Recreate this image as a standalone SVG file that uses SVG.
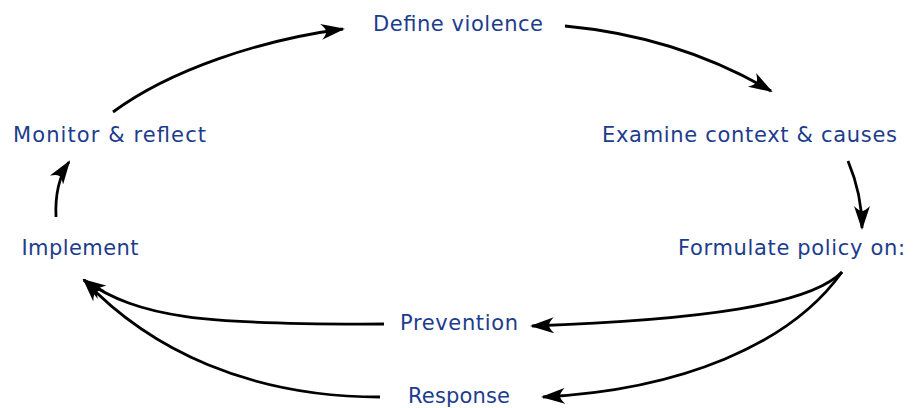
<svg xmlns="http://www.w3.org/2000/svg" width="919" height="408" viewBox="0 0 919 408">
<defs>
<style>
.lbl{font-family:"DejaVu Sans","Liberation Sans",sans-serif;font-size:21px;fill:#1d3c8c;}
.c{fill:none;stroke:#000;stroke-width:2.8;marker-end:url(#ah);}
</style>
<marker id="ah" markerUnits="userSpaceOnUse" viewBox="0 0 24 16" markerWidth="24" markerHeight="16" refX="22" refY="8" orient="auto">
<path d="M24 8 L0 0 Q5 5 5 8 Q5 11 0 16 Z" fill="#000"/>
</marker>
</defs>
<rect width="919" height="408" fill="#fff"/>
<g id="connectors">
<path class="c" d="M113,112 C170,70 260,40 343,29"/>
<path class="c" d="M565,26 C640,33 710,55 771,91"/>
<path class="c" d="M848,161 C856,180 862,200 862,228"/>
<path class="c" d="M842,272 C810,305 700,320 532,326"/>
<path class="c" d="M842,272 C790,345 680,390 543,397"/>
<path class="c" d="M384,324 C200,325 140,318 84,280"/>
<path class="c" d="M380,397 C250,397 150,350 84,280"/>
<path class="c" d="M56,217 C55,195 60,175 69,162"/>
</g>
<g id="define"><text class="lbl" x="373" y="30.7" textLength="170" lengthAdjust="spacing">Define violence</text></g>
<g id="examine"><text class="lbl" x="602" y="141.7" textLength="295" lengthAdjust="spacing">Examine context &amp; causes</text></g>
<g id="formulate"><text class="lbl" x="678" y="255" textLength="227" lengthAdjust="spacing">Formulate policy on:</text></g>
<g id="prevention"><text class="lbl" x="400" y="330" textLength="118" lengthAdjust="spacing">Prevention</text></g>
<g id="response"><text class="lbl" x="408" y="403" textLength="102" lengthAdjust="spacing">Response</text></g>
<g id="implement"><text class="lbl" x="21.5" y="255" textLength="117" lengthAdjust="spacing">Implement</text></g>
<g id="monitor"><text class="lbl" x="13" y="141.7" textLength="193" lengthAdjust="spacing">Monitor &amp; reflect</text></g>
</svg>
